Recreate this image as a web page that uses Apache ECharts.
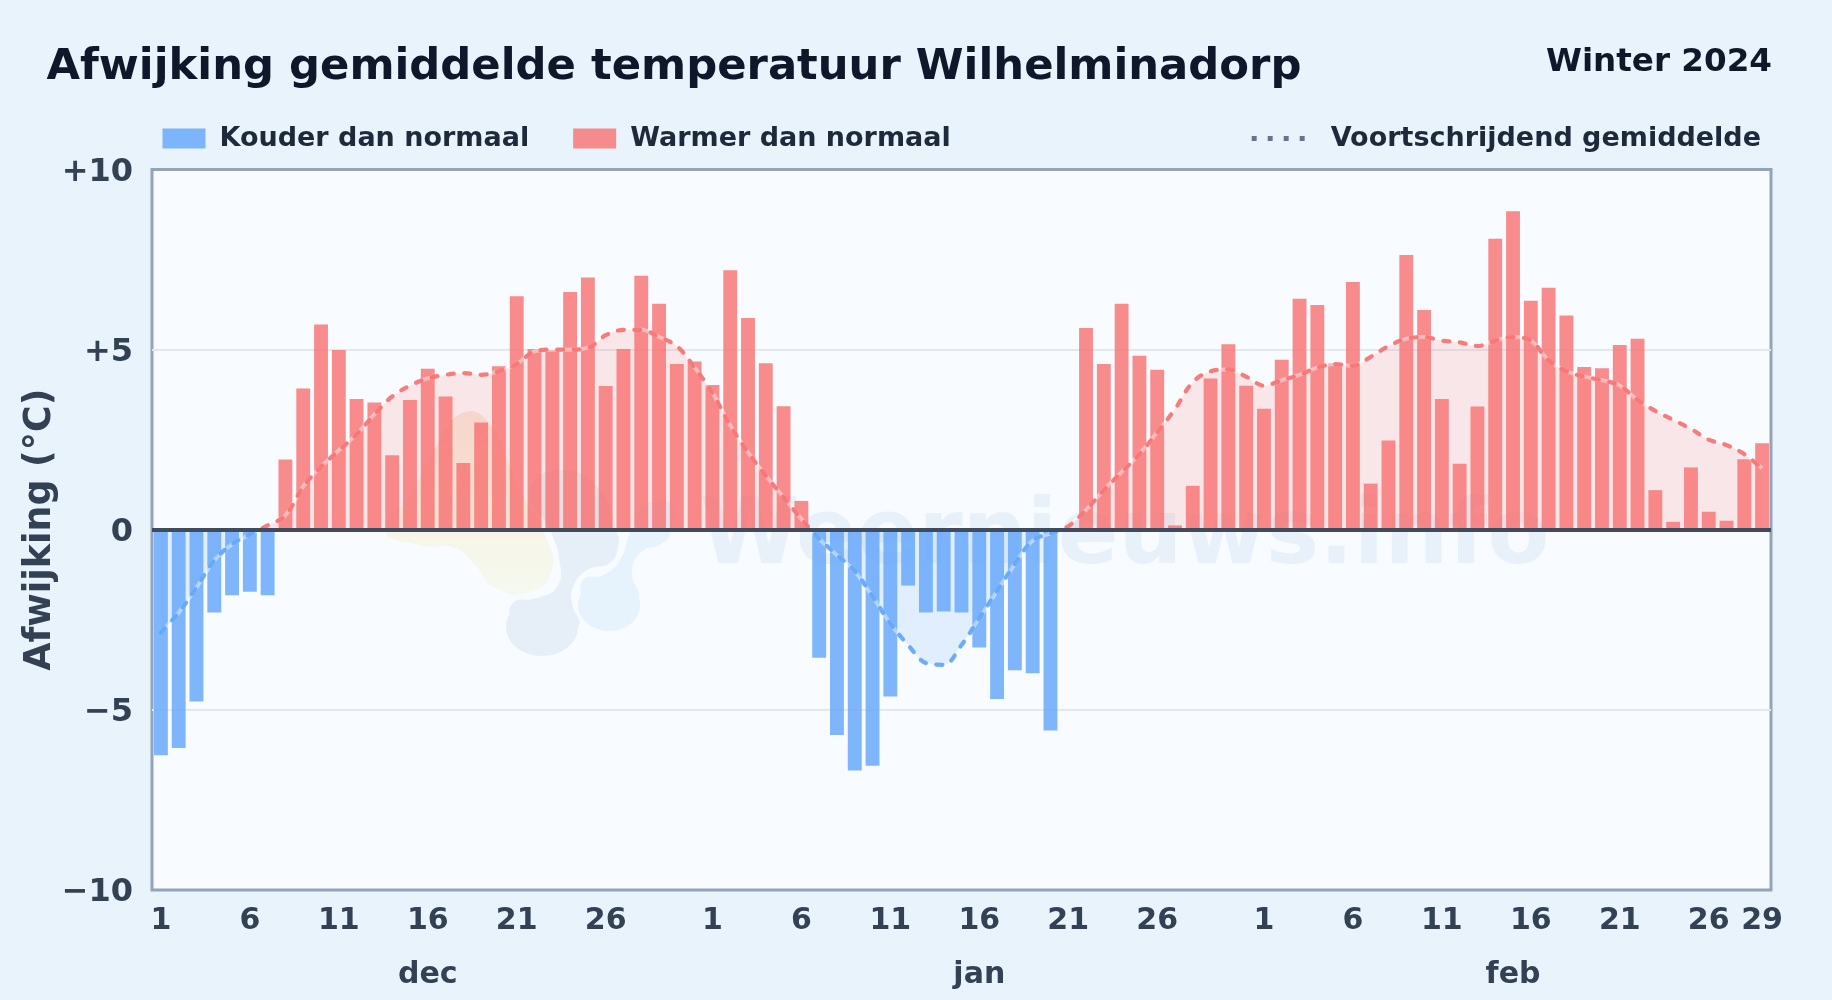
<!DOCTYPE html>
<html>
<head>
<meta charset="utf-8">
<style>html,body{margin:0;padding:0;background:#e9f3fc;}#c{width:1832px;height:1000px;}</style>
<script src="https://cdn.jsdelivr.net/npm/echarts@6/dist/echarts.min.js"></script>
</head>
<body>
<div id="c"></div>
<script>
const daysPerMonth = [31, 31, 29];
const monthNames = ['dec', 'jan', 'feb'];
const monthLabelDay = [16, 16, 15];
const tickDays = [1, 6, 11, 16, 21, 26];
const finalTickDay = 29;
const yTicks = {'10': '+10', '5': '+5', '0': '0', '-5': '\u22125', '-10': '\u221210'};

const decDeviation = [-6.26,-6.06,-4.77,-2.3,-1.82,-1.72,-1.82,1.95,3.92,5.7,4.99,3.63,3.53,2.07,3.6,4.47,3.7,1.85,2.98,4.54,6.48,5.02,4.98,6.6,7.0,3.99,5.02,7.05,6.27,4.6,4.67];
const janDeviation = [4.02,7.2,5.88,4.62,3.43,0.8,-3.55,-5.7,-6.68,-6.55,-4.63,-1.55,-2.3,-2.27,-2.3,-3.27,-4.7,-3.9,-3.98,-5.57,0,5.6,4.6,6.27,4.83,4.44,0.12,1.22,4.2,5.15,4.0];
const febDeviation = [3.36,4.72,6.41,6.24,4.63,6.88,1.28,2.48,7.63,6.1,3.63,1.83,3.42,8.08,8.84,6.36,6.72,5.95,4.52,4.48,5.13,5.3,1.1,0.22,1.73,0.5,0.25,1.96,2.4];

const decAverage = [-2.85,-2.3,-1.6,-0.85,-0.4,-0.13,0.12,0.4,1.2,1.75,2.2,2.65,3.2,3.7,4.0,4.2,4.3,4.35,4.3,4.4,4.6,4.95,5.0,5.0,5.05,5.4,5.55,5.55,5.35,5.1,4.5];
const janAverage = [3.8,2.9,2.15,1.5,0.9,0.3,-0.25,-0.7,-1.15,-1.85,-2.6,-3.2,-3.7,-3.75,-3.2,-2.45,-1.7,-0.95,-0.3,-0.1,0.1,0.55,1.1,1.6,2.1,2.7,3.35,4.1,4.4,4.45,4.25];
const febAverage = [4.0,4.15,4.3,4.5,4.6,4.55,4.8,5.1,5.3,5.35,5.25,5.2,5.1,5.25,5.35,5.25,4.7,4.4,4.25,4.15,4.0,3.6,3.3,3.05,2.8,2.5,2.35,2.1,1.7];

const coldName = 'Kouder dan normaal';
const warmName = 'Warmer dan normaal';
const avgName = 'Voortschrijdend gemiddelde';

const deviation = decDeviation.concat(janDeviation, febDeviation);
const average = decAverage.concat(janAverage, febAverage);
const categories = [], isTick = [], isMonthLabel = [], monthOf = [];
daysPerMonth.forEach((n, m) => {
  for (let d = 1; d <= n; d++) {
    categories.push(String(d));
    isTick.push(tickDays.includes(d) || (m === 2 && d === finalTickDay));
    isMonthLabel.push(d === monthLabelDay[m]);
    monthOf.push(monthNames[m]);
  }
});
const cold = deviation.map(v => v < 0 ? v : null);
const warm = deviation.map(v => v > 0 ? v : null);

const font = '"DejaVu Sans"';
const chart = echarts.init(document.getElementById('c'));
chart.setOption({
  animation: false,
  backgroundColor: '#e9f3fc',
  textStyle: {fontFamily: font},
  title: [
    {text: 'Afwijking gemiddelde temperatuur Wilhelminadorp', left: 41.5, top: 41,
      textStyle: {fontFamily: font, fontWeight: 'bold', fontSize: 43.3, color: '#0f172a'}},
    {text: 'Winter 2024', right: 55, top: 41,
      textStyle: {fontFamily: font, fontWeight: 'bold', fontSize: 32.6, color: '#0f172a'}}
  ],
  legend: [
    {left: 157.5, top: 120, itemWidth: 43, itemHeight: 20, itemGap: 44, icon: 'rect', data: [coldName, warmName],
      textStyle: {fontFamily: font, fontWeight: 'bold', fontSize: 27, color: '#1e293b', padding: [0, 0, 0, 9]}},
    {right: 66, top: 120, itemWidth: 60, itemHeight: 20,
      data: [{name: avgName, itemStyle: {color: 'transparent', opacity: 0}, lineStyle: {color: '#64748b', width: 5, type: [5, 11], cap: 'butt', opacity: 1}}],
      textStyle: {fontFamily: font, fontWeight: 'bold', fontSize: 27, color: '#1e293b', padding: [0, 0, 0, 14]}}
  ],
  grid: {left: 152, right: 61, top: 169.5, bottom: 110, show: true, backgroundColor: '#f8fbff', borderColor: '#94a3b8', borderWidth: 3},
  xAxis: [
    {type: 'category', data: categories, position: 'bottom', axisLine: {show: false}, axisTick: {show: false},
      axisLabel: {interval: i => isTick[i], margin: 16, fontFamily: font, fontWeight: 'bold', fontSize: 30, color: '#334155'}},
    {type: 'category', data: monthOf, position: 'bottom', offset: 60, axisLine: {show: false}, axisTick: {show: false},
      axisLabel: {interval: i => isMonthLabel[i], margin: 10, fontFamily: font, fontWeight: 'bold', fontSize: 30, color: '#334155'}}
  ],
  yAxis: {type: 'value', min: -10, max: 10, interval: 5,
    name: 'Afwijking (\u00b0C)', nameLocation: 'middle', nameGap: 93, nameRotate: 90, nameMoveOverlap: false,
    nameTextStyle: {fontFamily: font, fontWeight: 'bold', fontSize: 36.4, color: '#334155'},
    axisLine: {show: false}, axisTick: {show: false},
    axisLabel: {margin: 19, fontFamily: font, fontWeight: 'bold', fontSize: 32, color: '#334155', verticalAlign: 'top', lineHeight: 6, formatter: v => yTicks[String(v)]},
    splitLine: {showMinLine: false, showMaxLine: false, lineStyle: {color: '#e2e8f0', width: 2}}},
  visualMap: {show: false, type: 'piecewise', dimension: 1, seriesIndex: 2,
    pieces: [{min: -20, max: 0, color: '#60a5fa'}, {min: 0, max: 20, color: '#f87171'}]},
  series: [
    {name: coldName, type: 'bar', data: cold, barWidth: '78%', barGap: '-100%', z: 3, itemStyle: {color: 'rgba(96,165,250,0.8)'}},
    {name: warmName, type: 'bar', data: warm, barWidth: '78%', barGap: '-100%', z: 3, itemStyle: {color: 'rgba(248,113,113,0.8)'},
      markLine: {silent: true, symbol: 'none', label: {show: false}, z: 6, data: [{yAxis: 0}], lineStyle: {color: '#3f4b5f', width: 4, type: 'solid'}}},
    {name: avgName, type: 'line', data: average, smooth: 0.35, symbol: 'none', z: 5,
      lineStyle: {width: 4.2, type: [6, 10.5], cap: 'round', opacity: 0.92}, areaStyle: {opacity: 0.15}},
    {name: 'halo', type: 'line', data: average, smooth: 0.35, symbol: 'none', z: 4, silent: true,
      lineStyle: {width: 4, color: 'rgba(255,255,255,0.45)'}}
  ],
  graphic: {elements: [
    {type: 'polygon', z: 1, silent: true, shape: {smooth: 0.5, points: [[385,530],[420,545],[455,548],[475,565],[495,588],[530,592],[552,570],[545,535],[520,490],[490,425],[465,412],[440,440],[410,495]]},
      style: {fill: {type: 'linear', x: 0, y: 0, x2: 0, y2: 1, colorStops: [{offset: 0, color: '#f6e8dc'}, {offset: 0.5, color: '#f6f4e4'}, {offset: 1, color: '#f5f9ef'}]}}},
    {type: 'polygon', z: 1, silent: true, shape: {smooth: 0.5, points: [[617,533],[618,547],[610,563],[587,570],[573,587],[572,603],[578,627],[542,640],[513,620],[513,603],[537,598],[557,587],[560,563],[550,530],[530,490],[560,470],[600,490]]},
      style: {fill: '#e6eff8'}},
    {type: 'ellipse', z: 1, silent: true, shape: {cx: 542, cy: 627, rx: 36, ry: 29}, style: {fill: '#e6eff8'}},
    {type: 'polygon', z: 1, silent: true, shape: {smooth: 0.5, points: [[670,533],[663,543],[640,553],[632,573],[638,600],[610,615],[585,600],[583,580],[603,575],[620,560],[630,533],[645,505],[672,505]]},
      style: {fill: '#e6f3fd'}},
    {type: 'ellipse', z: 1, silent: true, shape: {cx: 609, cy: 605, rx: 31, ry: 26}, style: {fill: '#e6f3fd'}},
    {type: 'text', z: 1, silent: true, style: {x: 700, y: 585, text: 'Weernieuws.info', fill: '#e8f1fa', fontFamily: font, fontWeight: 'bold', fontSize: 90, verticalAlign: 'bottom'}}
  ]}
});
</script>
</body>
</html>
